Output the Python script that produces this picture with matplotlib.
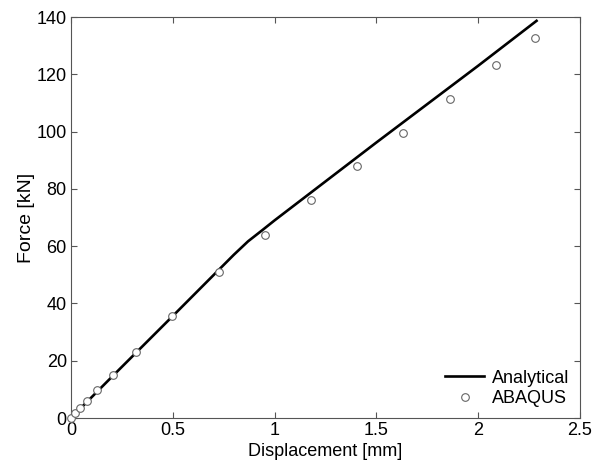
import numpy as np
import matplotlib.pyplot as plt

plt.rcParams['font.family'] = ['Liberation Sans', 'DejaVu Sans']

# analytical curve
disp_analytical = [0.0, 0.2, 0.5, 0.72, 0.8, 0.87, 0.94, 1.0, 1.5, 2.0, 2.287]
force_analytical = [0.0, 14.3, 35.6, 51.3, 57.0, 61.7, 65.6, 69.0, 96.2, 123.0, 138.7]

# ABAQUS results
disp_abaqus = [0.0, 0.02, 0.044, 0.077, 0.129, 0.208, 0.322, 0.496, 0.725,
               0.952, 1.18, 1.405, 1.633, 1.862, 2.09, 2.277]
force_abaqus = [0.1, 1.6, 3.6, 6.0, 9.7, 15.0, 23.2, 35.7, 51.0,
                64.0, 76.2, 88.0, 99.7, 111.3, 123.3, 132.7]

fig = plt.figure(figsize=(5.96, 4.70), dpi=100)
ax = fig.add_axes([0.119, 0.1106, 0.854, 0.853])

ax.plot(disp_analytical, force_analytical, color='black', lw=1.9, label='Analytical')
ax.plot(disp_abaqus, force_abaqus, ls='none', marker='o', ms=5.5, clip_on=False,
        mfc='white', mec='#666666', mew=0.8, label='ABAQUS', zorder=3)

ax.set_xlim(0, 2.5)
ax.set_ylim(0, 140)
ax.set_xticks([0, 0.5, 1, 1.5, 2, 2.5])
ax.set_xticklabels(['0', '0.5', '1', '1.5', '2', '2.5'])
ax.set_yticks(np.arange(0, 141, 20))
ax.tick_params(direction='in', top=True, right=True, labelsize=13,
               color='#555555', length=4, pad=3)
for s in ax.spines.values():
    s.set_color('#555555')
    s.set_linewidth(0.8)

ax.set_xlabel('Displacement [mm]', fontsize=13, labelpad=3)
ax.set_ylabel('Force [kN]', fontsize=14, labelpad=1)

ax.legend(loc='lower right', frameon=False, fontsize=13, handlelength=2.2,
          borderaxespad=0.2, handletextpad=0.4, labelspacing=0.2)

fig.savefig('out.png', dpi=100)
